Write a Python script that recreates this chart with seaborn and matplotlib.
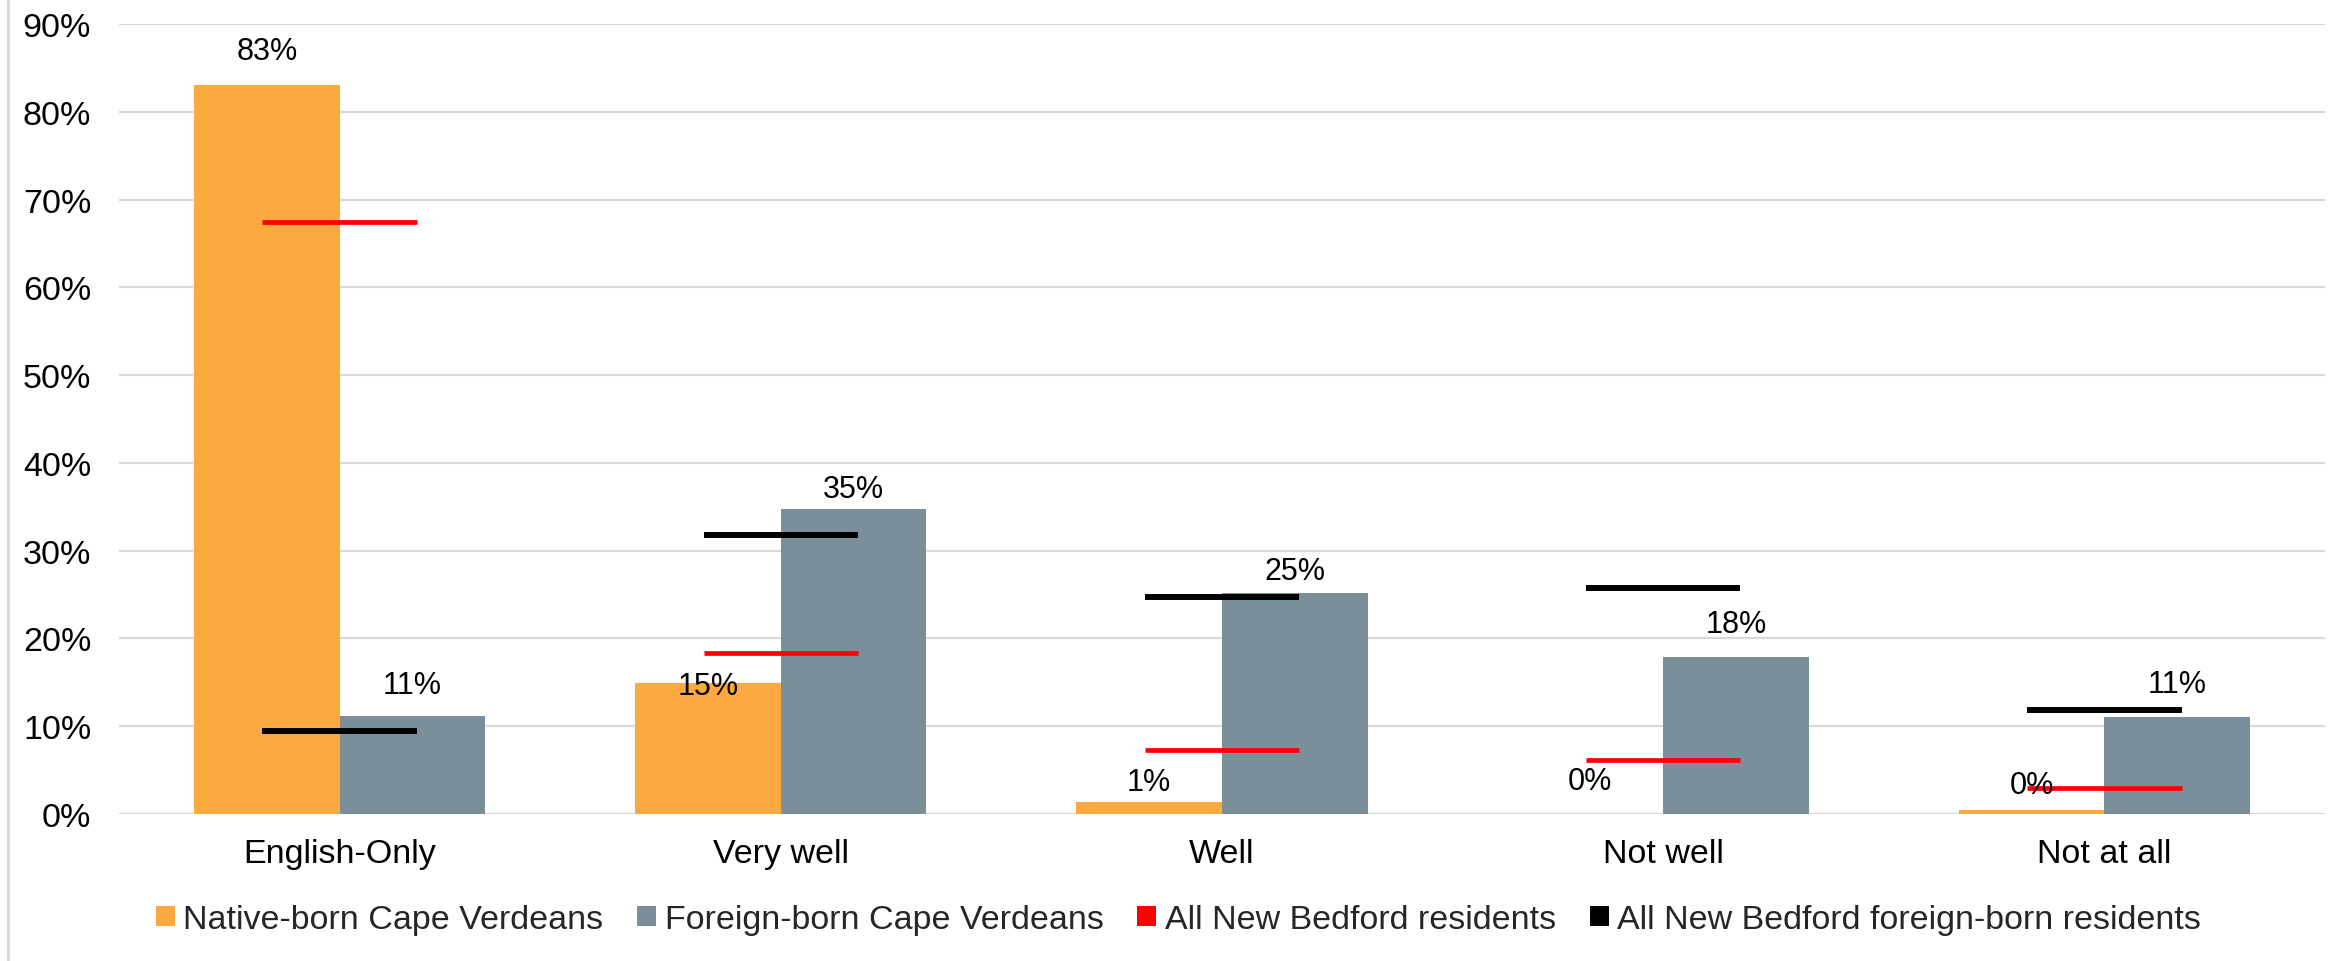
import matplotlib
matplotlib.use("Agg")
import matplotlib.pyplot as plt
from matplotlib.patches import Patch
from matplotlib.lines import Line2D
import numpy as np
import pandas as pd
import seaborn as sns

# data (shares, 0-1)
categories = ["English-Only", "Very well", "Well", "Not well", "Not at all"]
native_cv = [0.831, 0.149, 0.014, 0.0, 0.004]
foreign_cv = [0.112, 0.347, 0.252, 0.179, 0.110]
all_nb = [0.675, 0.183, 0.073, 0.061, 0.030]
foreign_nb = [0.095, 0.318, 0.247, 0.257, 0.118]
native_labels = ["83%", "15%", "1%", "0%", "0%"]
foreign_labels = ["11%", "35%", "25%", "18%", "11%"]

series_names = ["Native-born Cape Verdeans", "Foreign-born Cape Verdeans",
                "All New Bedford residents", "All New Bedford foreign-born residents"]

ORANGE = "#FCA940"
GREY = "#7A8F99"
RED = "#FF0000"
BLACK = "#000000"

sns.set_theme(style="white")
plt.rcParams["font.family"] = ["Liberation Sans", "DejaVu Sans"]

df = pd.DataFrame({
    "category": categories * 2,
    "value": native_cv + foreign_cv,
    "group": [series_names[0]] * 5 + [series_names[1]] * 5,
})

fig = plt.figure(figsize=(23.29, 9.62), dpi=100)
ax = fig.add_axes([0.0511, 0.1528, 0.9472, 0.8212])

sns.barplot(data=df, x="category", y="value", hue="group", order=categories,
            hue_order=series_names[:2], palette=[ORANGE, GREY],
            width=0.66, gap=0, dodge=True, legend=False, ax=ax,
            saturation=1, edgecolor="none")

# reference lines for all New Bedford residents
xpos = np.arange(len(categories))
half = 0.175
ax.hlines(all_nb, xpos - half, xpos + half, colors=RED, linewidth=3.4, zorder=4)
ax.hlines(foreign_nb, xpos - half, xpos + half, colors=BLACK, linewidth=4.3, zorder=4)

# value labels (offsets in points, as placed in the reference)
native_off = [24, -2, 14, 24, 18]
foreign_off = [22, 15, 16, 24, 24]
bw = 0.33
for i in range(len(categories)):
    ax.annotate(native_labels[i], (xpos[i] - bw / 2, native_cv[i]),
                xytext=(0, native_off[i]), textcoords="offset points",
                ha="center", va="center", fontsize=22, color="black", zorder=5)
    ax.annotate(foreign_labels[i], (xpos[i] + bw / 2, foreign_cv[i]),
                xytext=(0, foreign_off[i]), textcoords="offset points",
                ha="center", va="center", fontsize=22, color="black", zorder=5)

ax.set_xlim(-0.5, 4.5)
ax.set_ylim(0, 0.9)
ax.set_yticks(np.arange(0, 0.91, 0.1))
ax.set_yticklabels([f"{int(round(t * 100))}%" for t in np.arange(0, 0.91, 0.1)])
ax.yaxis.grid(True, color="#D9D9D9", linewidth=1.6)
ax.set_axisbelow(True)
for s in ax.spines.values():
    s.set_visible(False)
ax.tick_params(axis="y", length=0, pad=20, labelsize=24.5, labelcolor="black")
ax.tick_params(axis="x", length=0, pad=17, labelsize=24.5, labelcolor="black")
ax.set_xlabel("")
ax.set_ylabel("")

# frame line on the left edge
fig.add_artist(Line2D([0.0035, 0.0035], [0, 1], transform=fig.transFigure,
                      color="#D9D9D9", linewidth=2.2))

handles = [Patch(facecolor=c, edgecolor="none") for c in [ORANGE, GREY, RED, BLACK]]
fig.legend(handles, series_names, loc="center", bbox_to_anchor=(0.506, 0.043),
           ncol=4, frameon=False, fontsize=24.5, handlelength=0.55, handleheight=0.55,
           handletextpad=0.25, columnspacing=1.0, borderaxespad=0)

fig.savefig("out.png", dpi=100, facecolor="white")
